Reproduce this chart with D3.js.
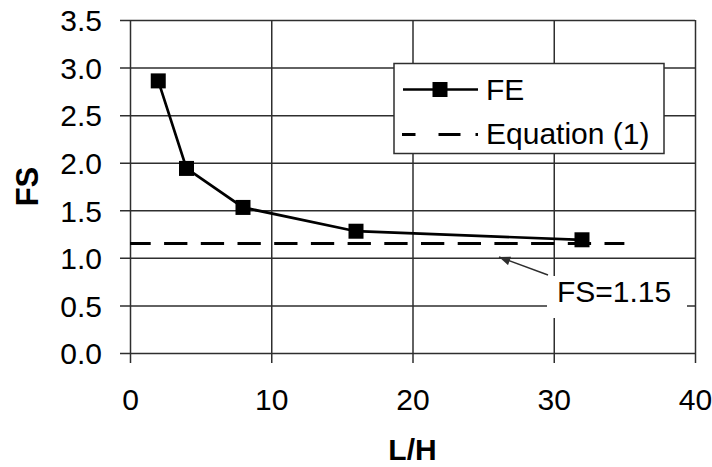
<!DOCTYPE html>
<html>
<head>
<meta charset="utf-8">
<script src="https://cdn.jsdelivr.net/npm/d3@7"></script>
<style>
  html, body { margin: 0; padding: 0; background: #fff; }
  svg { display: block; font-family: "Liberation Sans", Arial, sans-serif; }
  .axis text { font-size: 30px; fill: #000; }
  .axis line { stroke: #2e2e2e; stroke-width: 1.5; }
</style>
</head>
<body>
<svg id="chart" width="712" height="467"></svg>
<script>
// Factor of safety vs. slope length ratio
const lhRatio = [2, 4, 8, 16, 32];
const feFS = [2.86, 1.94, 1.53, 1.28, 1.19];
const eqFS = 1.15;             // Equation (1)
const eqRange = [0, 35];       // extent of the Equation (1) line along L/H
const xTicks = [0, 10, 20, 30, 40];
const yTicks = [0, 0.5, 1.0, 1.5, 2.0, 2.5, 3.0, 3.5];
const seriesNames = ["FE", "Equation (1)"];
const noteText = "FS=1.15";

const svg = d3.select("#chart");
const plotL = 130, plotR = 695, plotT = 20, plotB = 353, tickLen = 10;

const x = d3.scaleLinear().domain([0, 40]).range([plotL, plotR]);
const y = d3.scaleLinear().domain([0, 3.5]).range([plotB, plotT]);

// horizontal grid + y labels
svg.append("g").attr("class", "axis")
  .attr("transform", `translate(${plotL - tickLen},0)`)
  .call(d3.axisLeft(y).tickValues(yTicks).tickFormat(d3.format(".1f"))
    .tickSize(-(plotR - plotL + tickLen)).tickPadding(18))
  .call(g => g.select(".domain").remove())
  .call(g => g.selectAll("text").attr("dy", "0.36em"));

// vertical grid + x labels
svg.append("g").attr("class", "axis")
  .attr("transform", `translate(0,${plotB + tickLen})`)
  .call(d3.axisBottom(x).tickValues(xTicks).tickFormat(d3.format("d"))
    .tickSize(-(plotB - plotT + tickLen)).tickPadding(26))
  .call(g => g.select(".domain").remove());

// axis titles
svg.append("text").attr("x", (plotL + plotR) / 2).attr("y", 460)
  .attr("text-anchor", "middle").attr("font-size", 30).attr("font-weight", "bold")
  .text("L/H");
svg.append("text")
  .attr("transform", `translate(38,${(plotT + plotB) / 2}) rotate(-90)`)
  .attr("text-anchor", "middle").attr("font-size", 31).attr("font-weight", "bold")
  .text("FS");

// Equation (1) dashed line
svg.append("line")
  .attr("x1", x(eqRange[0])).attr("x2", x(eqRange[1]))
  .attr("y1", y(eqFS)).attr("y2", y(eqFS))
  .attr("stroke", "#000").attr("stroke-width", 3)
  .attr("stroke-dasharray", "23.3,13.4").attr("stroke-dashoffset", 2.6);

// FE series
const pts = lhRatio.map((d, i) => [d, feFS[i]]);
svg.append("path").datum(pts)
  .attr("fill", "none").attr("stroke", "#000").attr("stroke-width", 2.7)
  .attr("d", d3.line().x(d => x(d[0])).y(d => y(d[1])));
const ms = 15;
svg.selectAll("rect.mk").data(pts).join("rect").attr("class", "mk")
  .attr("x", d => x(d[0]) - ms / 2).attr("y", d => y(d[1]) - ms / 2)
  .attr("width", ms).attr("height", ms).attr("fill", "#000");

// legend
const lg = svg.append("g");
lg.append("rect").attr("x", 394).attr("y", 63.5).attr("width", 270).attr("height", 90)
  .attr("fill", "#fff").attr("stroke", "#2e2e2e").attr("stroke-width", 1.5);
lg.append("line").attr("x1", 403).attr("x2", 478).attr("y1", 89.5).attr("y2", 89.5)
  .attr("stroke", "#000").attr("stroke-width", 2.7);
lg.append("rect").attr("x", 440 - ms / 2).attr("y", 89.5 - ms / 2)
  .attr("width", ms).attr("height", ms).attr("fill", "#000");
lg.append("line").attr("x1", 402).attr("x2", 478).attr("y1", 134.5).attr("y2", 134.5)
  .attr("stroke", "#000").attr("stroke-width", 3)
  .attr("stroke-dasharray", "13.5,23,22,15,2.5,100");
lg.append("text").attr("x", 486).attr("y", 100).attr("font-size", 30).text(seriesNames[0]);
lg.append("text").attr("x", 486).attr("y", 144).attr("font-size", 30).text(seriesNames[1]);

// annotation
svg.append("rect").attr("x", 547).attr("y", 276).attr("width", 140).attr("height", 42)
  .attr("fill", "#fff");
svg.append("text").attr("x", 614).attr("y", 302).attr("text-anchor", "middle")
  .attr("font-size", 30).text(noteText);
svg.append("defs").append("marker").attr("id", "ah")
  .attr("viewBox", "0 0 10 8").attr("refX", 10).attr("refY", 4)
  .attr("markerWidth", 14).attr("markerHeight", 9).attr("markerUnits", "userSpaceOnUse")
  .attr("orient", "auto")
  .append("path").attr("d", "M0,0L10,4L0,8Z").attr("fill", "#2e2e2e");
svg.append("line").attr("x1", 548).attr("y1", 275).attr("x2", 499).attr("y2", 257)
  .attr("stroke", "#2e2e2e").attr("stroke-width", 1.5).attr("marker-end", "url(#ah)");
</script>
</body>
</html>
